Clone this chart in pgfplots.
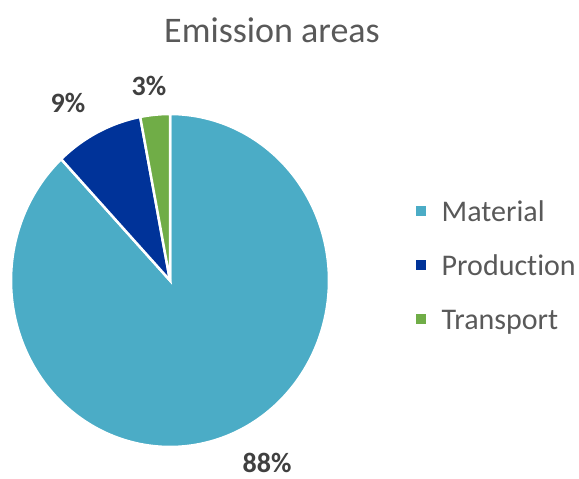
\documentclass[border=0pt]{standalone}
\usepackage{fontspec}
\setmainfont{Carlito}[Ligatures={NoCommon}]
\usepackage{pgfplots}
\pgfplotsset{compat=1.18}
\definecolor{cMat}{HTML}{4BACC6}
\definecolor{cProd}{HTML}{003399}
\definecolor{cTra}{HTML}{70AD47}
\definecolor{tTitle}{HTML}{595959}
\definecolor{tLab}{HTML}{404040}
\begin{document}
\begin{tikzpicture}
% shares: Material 88%, Production 9%, Transport 3%
% angles clockwise from 90 deg: Material 316.8, Production 32.4, Transport 10.8
\begin{axis}[
  width=579pt, height=479pt, scale only axis,
  xmin=-1.0692, xmax=2.5723, ymin=-1.1922, ymax=1.6847,
  hide axis, clip=false,
  legend style={at={(axis cs:1.5472,0.0751)}, anchor=west, draw=none, fill=none,
    inner sep=0pt, row sep=27pt,
    font=\fontsize{30}{30}\selectfont\color{tTitle},
    nodes={inner xsep=0pt, inner ysep=0pt, text height=21pt, text depth=6pt}},
  legend cell align=left,
  legend image code/.code={\fill[#1, draw=none] (0pt,-2pt) rectangle (9.5pt,7.5pt); \path[draw=none, fill=none] (0pt,0pt) -- (25.5pt,0pt);},
]
\addplot[fill=cMat, draw=white, line width=2.5pt, data cs=polar, domain=-226.8:90, samples=200]
  ({x},{1}) -- (axis cs:0,0) -- cycle;
\addlegendentry{Material}
\addplot[fill=cProd, draw=white, line width=2.5pt, data cs=polar, domain=-259.2:-226.8, samples=40]
  ({x},{1}) -- (axis cs:0,0) -- cycle;
\addlegendentry{Production}
\addplot[fill=cTra, draw=white, line width=2.5pt, data cs=polar, domain=-270:-259.2, samples=20]
  ({x},{1}) -- (axis cs:0,0) -- cycle;
\addlegendentry{Transport}
\node[inner sep=0pt, font=\fontsize{36}{36}\selectfont, text=tTitle] at (axis cs:0.6415,1.5045) {Emission areas};
\node[inner sep=0pt, font=\fontsize{28}{28}\selectfont\bfseries, text=tLab] at (axis cs:-0.6415,1.0661) {9\%};
\node[inner sep=0pt, font=\fontsize{28}{28}\selectfont\bfseries, text=tLab] at (axis cs:-0.1321,1.1682) {3\%};
\node[inner sep=0pt, font=\fontsize{28}{28}\selectfont\bfseries, text=tLab] at (axis cs:0.6101,-1.0961) {88\%};
\end{axis}
\pgfresetboundingbox
\useasboundingbox (current axis.south west) rectangle (current axis.north east);
\end{tikzpicture}
\end{document}
